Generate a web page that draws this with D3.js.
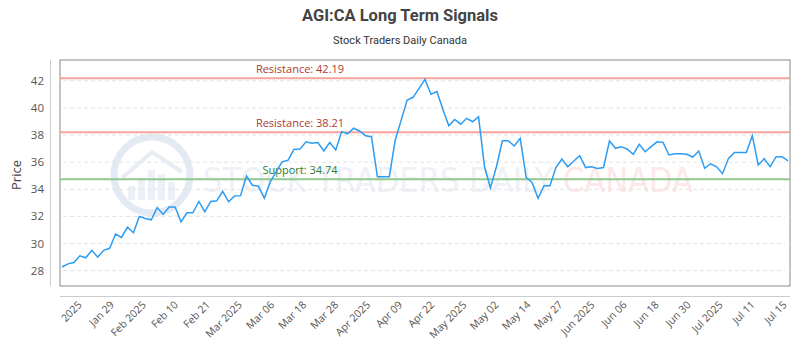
<!DOCTYPE html>
<html>
<head>
<meta charset="utf-8">
<script src="https://cdn.jsdelivr.net/npm/d3@7"></script>
<style>
  body { margin: 0; background: #fff; }
  svg { display: block; font-family: "Open Sans", sans-serif; }
</style>
</head>
<body>
<svg id="chart"></svg>
<script>
const width = 800;
const height = 350;

// daily closes
const prices = [
  28.27, 28.5, 28.6, 29.1, 28.95, 29.5, 29.0, 29.5, 29.65, 30.7,
  30.45, 31.2, 30.8, 32.0, 31.85, 31.75, 32.65, 32.15, 32.7, 32.7,
  31.6, 32.27, 32.27, 33.1, 32.35, 33.1, 33.15, 33.85, 33.08, 33.5,
  33.53, 34.98, 34.3, 34.22, 33.35, 34.55, 35.3, 36.02, 36.15, 36.95,
  36.96, 37.5, 37.4, 37.45, 36.82, 37.45, 36.9, 38.25, 38.08, 38.5,
  38.3, 37.95, 37.88, 34.93, 34.93, 34.93, 37.63, 39.1, 40.58, 40.78,
  41.44, 42.1, 41.0, 41.2, 39.9, 38.68, 39.15, 38.8, 39.23, 38.98,
  39.35, 35.66, 34.1, 35.66, 37.58, 37.58, 37.19, 37.76, 34.87, 34.5,
  33.33, 34.26, 34.26, 35.6, 36.23, 35.66, 36.08, 36.48, 35.6, 35.66,
  35.54, 35.6, 37.56, 37.02, 37.14, 36.95, 36.58, 37.31, 36.77, 37.14,
  37.5, 37.46, 36.53, 36.62, 36.62, 36.58, 36.38, 36.82, 35.54, 35.88,
  35.66, 35.15, 36.28, 36.72, 36.72, 36.72, 37.95, 35.79, 36.25, 35.66,
  36.4, 36.4, 36.1
];

const xLabels = [
  "2025", "Jan 29", "Feb 2025", "Feb 10", "Feb 21", "Mar 2025", "Mar 06",
  "Mar 18", "Mar 28", "Apr 2025", "Apr 09", "Apr 22", "May 2025", "May 02",
  "May 14", "May 27", "Jun 2025", "Jun 06", "Jun 18", "Jun 30", "Jul 2025",
  "Jul 11", "Jul 15"
];

const yTicks = [28, 30, 32, 34, 36, 38, 40, 42];

const levels = [
  { label: "Resistance", value: 42.19, kind: "res" },
  { label: "Resistance", value: 38.21, kind: "res" },
  { label: "Support", value: 34.74, kind: "sup" }
];

const plot = { left: 60, right: 790, top: 60, bottom: 286 };

const svg = d3.select('#chart').attr('width', width).attr('height', height);

const x = d3.scaleLinear()
    .domain([0, prices.length - 1])
    .range([plot.left + 2, plot.right - 2]);
const y = d3.scaleLinear()
    .domain([26.87, 43.53])
    .range([plot.bottom, plot.top]);
const xl = d3.scalePoint()
    .domain(xLabels)
    .range([80, 785]);

// title
svg.append('text')
    .attr('x', width / 2).attr('y', 21)
    .attr('text-anchor', 'middle')
    .style('font-family', 'Roboto, sans-serif')
    .style('font-weight', 'bold')
    .style('font-size', '16.5px')
    .style('fill', '#444')
    .text('AGI:CA Long Term Signals');
svg.append('text')
    .attr('x', width / 2).attr('y', 44)
    .attr('text-anchor', 'middle')
    .style('font-family', 'Roboto, sans-serif')
    .style('font-size', '11px')
    .style('fill', '#333')
    .text('Stock Traders Daily Canada');

// watermark
const wm = svg.append('g').attr('opacity', 0.5);
wm.append('circle')
    .attr('cx', 152).attr('cy', 175).attr('r', 38)
    .style('fill', 'none').style('stroke', '#c9d6ea').style('stroke-width', 7);
[[128, 14], [138, 22], [148, 30], [158, 26], [168, 18]].forEach(([bx, bh]) => {
  wm.append('rect').attr('x', bx).attr('y', 200 - bh).attr('width', 7).attr('height', bh)
      .style('fill', '#dde5f1');
});
wm.append('path')
    .attr('d', 'M122 178 L152 152 L182 172')
    .style('fill', 'none').style('stroke', '#d3ddec').style('stroke-width', 4);
const wmText = wm.append('text')
    .attr('x', 203).attr('y', 192)
    .style('font-family', '"DejaVu Sans Condensed", "DejaVu Sans", sans-serif')
    .style('font-size', '34px');
wmText.append('tspan').style('fill', '#dfe5ee').text('STOCK TRADERS DAILY ');
wmText.append('tspan').style('fill', '#fbd3d3').text('CANADA');

// grid
svg.append('g')
  .selectAll('line')
  .data(yTicks)
  .join('line')
    .attr('x1', plot.left + 3).attr('x2', plot.right - 5)
    .attr('y1', d => y(d)).attr('y2', d => y(d))
    .style('stroke', '#e3e3e3')
    .style('stroke-dasharray', '4,3');

// plot frame
svg.append('rect')
    .attr('x', plot.left).attr('y', plot.top)
    .attr('width', plot.right - plot.left).attr('height', plot.bottom - plot.top)
    .style('fill', 'none').style('stroke', '#8a8a8a').style('stroke-width', 1);

// y axis
svg.append('line')
    .attr('x1', 50.5).attr('x2', 50.5).attr('y1', plot.top).attr('y2', plot.bottom)
    .style('stroke', '#ccc');
svg.append('g')
  .selectAll('text')
  .data(yTicks)
  .join('text')
    .attr('x', 44).attr('y', d => y(d))
    .attr('dy', '0.35em')
    .attr('text-anchor', 'end')
    .style('font-size', '11.5px')
    .style('fill', '#555')
    .text(d => d);
svg.append('text')
    .attr('transform', 'translate(21,175) rotate(-90)')
    .attr('text-anchor', 'middle')
    .style('font-size', '13px')
    .style('fill', '#444')
    .text('Price');

// x axis
svg.append('line')
    .attr('x1', plot.left).attr('x2', plot.right).attr('y1', 296.5).attr('y2', 296.5)
    .style('stroke', '#ccc');
svg.append('g')
  .selectAll('text')
  .data(xLabels)
  .join('text')
    .attr('transform', d => `translate(${xl(d)},303) rotate(-45)`)
    .attr('text-anchor', 'end')
    .attr('dy', '0.35em')
    .style('font-size', '10.5px')
    .style('fill', '#555')
    .text(d => d);

// support / resistance
const lv = svg.append('g');
lv.selectAll('line')
  .data(levels)
  .join('line')
    .attr('x1', plot.left).attr('x2', plot.right)
    .attr('y1', d => y(d.value)).attr('y2', d => y(d.value))
    .style('stroke', d => d.kind === 'res' ? '#f4a49c' : '#8fc98f')
    .style('stroke-width', 2);
lv.selectAll('text')
  .data(levels)
  .join('text')
    .attr('x', 300).attr('y', d => y(d.value) - 5)
    .attr('text-anchor', 'middle')
    .style('font-size', '11px')
    .style('fill', d => d.kind === 'res' ? '#b03a2e' : '#2e7d32')
    .text(d => `${d.label}: ${d.value.toFixed(2)}`);

// price line
const line = d3.line()
    .x((d, i) => x(i))
    .y(d => y(d));
svg.append('path')
    .datum(prices)
    .attr('d', line)
    .style('fill', 'none')
    .style('stroke', '#2c9cf2')
    .style('stroke-width', 1.5);
</script>
</body>
</html>
